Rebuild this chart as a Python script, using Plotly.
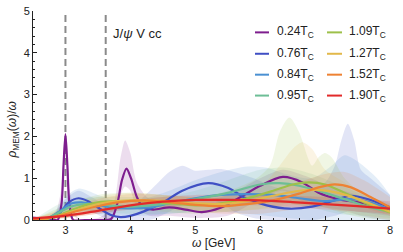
import plotly.graph_objects as go

# ---------------- data ----------------
labels = ["0.24", "0.76", "0.84", "0.95", "1.09", "1.27", "1.52", "1.90"]
colors = ["#7E1E8E", "#3F4FC4", "#4A90D2", "#6DBE96", "#9DC04A", "#E2B84A", "#EE8233", "#E22A2A"]

# central curves (x, y)
x024 = [2.5, 2.65, 2.8, 2.88, 2.94, 2.97, 3.0, 3.03, 3.06, 3.12, 3.3, 3.5, 3.7, 3.8, 3.87, 3.94, 4.01, 4.1, 4.2,
        4.35, 4.6, 4.85, 5.1, 5.4, 5.7, 6.0, 6.35, 6.65, 6.9, 7.2, 7.6, 8.0]
y024 = [0.05, 0.04, 0.01, 0.0, 0.4, 1.3, 2.05, 1.3, 0.4, 0.0, 0.0, 0.0, 0.02, 0.4, 0.95, 1.23, 1.0, 0.55, 0.3,
        0.25, 0.3, 0.25, 0.19, 0.3, 0.55, 0.82, 1.03, 0.9, 0.65, 0.5, 0.4, 0.22]
x076 = [2.5, 2.7, 2.9, 3.05, 3.2, 3.35, 3.5, 3.7, 3.85, 4.0, 4.2, 4.5, 4.8, 5.2, 5.5, 5.8, 6.1, 6.45, 6.8, 7.1,
        7.4, 7.7, 8.0]
y076 = [0.0, 0.0, 0.15, 0.42, 0.52, 0.45, 0.3, 0.12, 0.07, 0.1, 0.2, 0.42, 0.7, 0.88, 0.77, 0.5, 0.35, 0.27, 0.32,
        0.45, 0.58, 0.48, 0.3]
x084 = [2.5, 2.7, 2.9, 3.1, 3.25, 3.45, 3.7, 4.0, 4.3, 4.6, 5.0, 5.4, 5.8, 6.2, 6.6, 7.0, 7.4, 7.7, 8.0]
y084 = [0.0, 0.02, 0.2, 0.4, 0.42, 0.37, 0.3, 0.28, 0.3, 0.4, 0.52, 0.6, 0.62, 0.6, 0.52, 0.45, 0.5, 0.42, 0.25]
x095 = [2.5, 2.7, 2.9, 3.1, 3.3, 3.6, 4.0, 4.5, 5.0, 5.5, 6.0, 6.3, 6.6, 7.0, 7.4, 7.7, 8.0]
y095 = [0.0, 0.03, 0.18, 0.33, 0.38, 0.36, 0.32, 0.38, 0.5, 0.65, 0.85, 0.88, 0.82, 0.65, 0.45, 0.3, 0.2]
x109 = [2.5, 2.7, 2.9, 3.2, 3.5, 3.8, 4.2, 4.6, 5.0, 5.4, 5.8, 6.2, 6.5, 6.75, 7.0, 7.3, 7.6, 8.0]
y109 = [0.0, 0.02, 0.12, 0.3, 0.42, 0.45, 0.45, 0.4, 0.35, 0.4, 0.52, 0.7, 0.85, 0.9, 0.85, 0.65, 0.42, 0.18]
x127 = [2.5, 2.7, 2.9, 3.2, 3.5, 3.8, 4.2, 4.6, 5.0, 5.4, 5.8, 6.2, 6.6, 6.9, 7.2, 7.6, 8.0]
y127 = [0.0, 0.03, 0.1, 0.25, 0.38, 0.45, 0.47, 0.45, 0.4, 0.38, 0.45, 0.58, 0.7, 0.72, 0.65, 0.45, 0.2]
x152 = [2.5, 2.7, 2.9, 3.2, 3.5, 3.8, 4.2, 4.6, 5.0, 5.4, 5.8, 6.2, 6.6, 6.9, 7.15, 7.4, 7.7, 8.0]
y152 = [0.02, 0.04, 0.1, 0.22, 0.33, 0.42, 0.47, 0.43, 0.36, 0.33, 0.38, 0.47, 0.63, 0.78, 0.85, 0.78, 0.55, 0.3]
x190 = [2.5, 3.0, 3.5, 4.0, 4.5, 5.0, 5.5, 6.0, 6.5, 7.0, 7.5, 8.0]
y190 = [0.04, 0.1, 0.22, 0.35, 0.44, 0.48, 0.48, 0.47, 0.43, 0.38, 0.33, 0.27]

# error bands (x, lower, upper)
bx024 = [2.5, 2.8, 2.92, 3.0, 3.08, 3.2, 3.5, 3.72, 3.85, 3.92, 4.0, 4.1, 4.3, 4.6, 5.0, 5.5, 6.0, 6.35, 6.7,
         7.0, 7.5, 8.0]
bu024 = [0.1, 0.05, 0.6, 2.1, 0.6, 0.05, 0.05, 0.3, 1.5, 1.9, 1.6, 0.9, 0.5, 0.5, 0.45, 0.6, 1.0, 1.2, 1.05,
         0.85, 0.6, 0.35]
bl024 = [0.0, 0.0, 0.3, 1.95, 0.3, 0.0, 0.0, 0.0, 0.6, 0.8, 0.7, 0.3, 0.1, 0.1, 0.05, 0.1, 0.5, 0.7, 0.4,
         0.3, 0.2, 0.1]
bx076 = [2.5, 2.8, 3.0, 3.2, 3.4, 3.7, 4.0, 4.3, 4.6, 4.8, 5.0, 5.2, 5.4, 5.6, 5.9, 6.2, 6.5, 6.8, 7.0, 7.15,
         7.25, 7.35, 7.45, 7.55, 7.7, 8.0]
bu076 = [0.0, 0.1, 0.5, 0.7, 0.55, 0.3, 0.3, 0.7, 1.15, 1.3, 1.18, 1.2, 1.22, 1.15, 1.0, 0.8, 0.7, 0.75, 0.9,
         1.3, 1.9, 2.3, 1.9, 1.2, 1.0, 0.6]
bl076 = [0.0, 0.0, 0.2, 0.3, 0.2, 0.0, 0.0, 0.0, 0.2, 0.35, 0.45, 0.5, 0.4, 0.2, 0.05, 0.0, 0.0, 0.0, 0.05,
         0.1, 0.15, 0.2, 0.15, 0.1, 0.05, 0.0]
bx084 = [2.5, 2.8, 3.0, 3.2, 3.5, 3.8, 4.2, 4.6, 5.0, 5.4, 5.8, 6.1, 6.4, 6.8, 7.1, 7.3, 7.5, 7.8, 8.0]
bu084 = [0.0, 0.15, 0.55, 0.75, 0.6, 0.45, 0.5, 0.7, 0.95, 1.15, 1.28, 1.25, 1.1, 1.0, 1.3, 1.55, 1.4, 1.0, 0.6]
bl084 = [0.0, 0.0, 0.2, 0.2, 0.15, 0.1, 0.1, 0.15, 0.2, 0.2, 0.15, 0.1, 0.05, 0.0, 0.0, 0.0, 0.0, 0.0, 0.0]
bx095 = [2.5, 3.0, 3.5, 4.0, 4.5, 5.0, 5.5, 6.0, 6.4, 6.8, 7.2, 7.6, 8.0]
bu095 = [0.0, 0.45, 0.55, 0.55, 0.55, 0.7, 0.95, 1.2, 1.25, 1.1, 0.85, 0.6, 0.4]
bl095 = [0.0, 0.2, 0.2, 0.15, 0.15, 0.2, 0.3, 0.4, 0.4, 0.3, 0.15, 0.1, 0.05]
bx109 = [2.5, 3.0, 3.5, 4.0, 4.5, 5.0, 5.5, 5.9, 6.15, 6.3, 6.45, 6.6, 6.8, 6.9, 7.0, 7.1, 7.3, 7.6, 8.0]
bu109 = [0.0, 0.35, 0.6, 0.65, 0.6, 0.55, 0.7, 0.95, 1.3, 2.1, 2.45, 2.1, 1.3, 1.5, 1.6, 1.5, 1.0, 0.6, 0.3]
bl109 = [0.0, 0.05, 0.2, 0.25, 0.2, 0.15, 0.2, 0.25, 0.3, 0.35, 0.4, 0.35, 0.3, 0.3, 0.3, 0.25, 0.15, 0.05, 0.0]
bx127 = [2.5, 3.0, 3.5, 4.0, 4.5, 5.0, 5.5, 6.0, 6.3, 6.5, 6.65, 6.8, 7.0, 7.3, 7.6, 8.0]
bu127 = [0.0, 0.3, 0.55, 0.65, 0.6, 0.55, 0.6, 0.8, 1.3, 1.7, 1.86, 1.7, 1.2, 0.9, 0.6, 0.35]
bl127 = [0.0, 0.05, 0.2, 0.3, 0.25, 0.2, 0.2, 0.25, 0.3, 0.35, 0.35, 0.35, 0.3, 0.2, 0.1, 0.0]
bx152 = [2.5, 3.0, 3.5, 4.0, 4.5, 5.0, 5.5, 6.0, 6.5, 7.0, 7.3, 7.6, 8.0]
bu152 = [0.05, 0.25, 0.5, 0.62, 0.6, 0.55, 0.5, 0.6, 0.85, 1.1, 1.15, 0.95, 0.55]
bl152 = [0.0, 0.05, 0.15, 0.3, 0.3, 0.2, 0.15, 0.15, 0.25, 0.4, 0.45, 0.3, 0.1]
bx190 = [2.5, 3.0, 3.5, 4.0, 4.5, 5.0, 5.5, 6.0, 6.5, 7.0, 7.5, 8.0]
bu190 = [0.06, 0.15, 0.3, 0.45, 0.55, 0.6, 0.6, 0.6, 0.58, 0.55, 0.5, 0.45]
bl190 = [0.02, 0.06, 0.15, 0.25, 0.33, 0.36, 0.36, 0.35, 0.3, 0.25, 0.2, 0.15]

marker_lines = [3.0, 3.62]   # dashed vertical lines
x_ticks = [3, 4, 5, 6, 7, 8]
y_ticks = [0, 1, 2, 3, 4, 5]
x_range = [2.5, 8.0]
y_range = [0, 5]

curves = [(x024, y024), (x076, y076), (x084, y084), (x095, y095),
          (x109, y109), (x127, y127), (x152, y152), (x190, y190)]
bands = [(bx024, bl024, bu024), (bx076, bl076, bu076), (bx084, bl084, bu084), (bx095, bl095, bu095),
         (bx109, bl109, bu109), (bx127, bl127, bu127), (bx152, bl152, bu152), (bx190, bl190, bu190)]


def rgba(h, a):
    h = h.lstrip("#")
    r, g, b = int(h[0:2], 16), int(h[2:4], 16), int(h[4:6], 16)
    return f"rgba({r},{g},{b},{a})"


fig = go.Figure()

for (bx, bl, bu), c in zip(bands, colors):
    fig.add_trace(go.Scatter(x=bx, y=bl, mode="lines", line=dict(width=0, shape="spline", smoothing=0.8),
                             showlegend=False, hoverinfo="skip"))
    fig.add_trace(go.Scatter(x=bx, y=bu, mode="lines", line=dict(width=0, shape="spline", smoothing=0.8),
                             fill="tonexty", fillcolor=rgba(c, 0.15), showlegend=False, hoverinfo="skip"))

for (cx, cy), c, lab in zip(curves, colors, labels):
    fig.add_trace(go.Scatter(x=cx, y=cy, mode="lines", name=lab,
                             line=dict(color=c, width=2.2, shape="spline", smoothing=0.8),
                             showlegend=False))

for xv in marker_lines:
    fig.add_shape(type="line", xref="x", yref="y", x0=xv, x1=xv, y0=y_range[0], y1=y_range[1],
                  line=dict(color="#8a8a8a", width=2, dash="7px,4px"), layer="below")

# manual legend (2 columns x 4 rows)
L, R, T, B = 33, 13, 5, 32
W, H = 403, 252
pw, ph = W - L - R, H - T - B


def px(xp):
    return (xp - L) / pw


def py(yp):
    return (H - B - yp) / ph


col_line_x = [(255, 269), (327, 342)]
col_text_x = [275, 347]
row_y = [27, 49, 70.5, 92]
for i, (lab, c) in enumerate(zip(labels, colors)):
    col, row = divmod(i, 4)
    x0, x1 = col_line_x[col]
    fig.add_shape(type="line", xref="paper", yref="paper", x0=px(x0), x1=px(x1),
                  y0=py(row_y[row]), y1=py(row_y[row]), line=dict(color=c, width=2))
    fig.add_annotation(xref="paper", yref="paper", x=px(col_text_x[col]), y=py(row_y[row]),
                       text=f"{lab}T<sub>C</sub>", showarrow=False, xanchor="left", yanchor="middle",
                       font=dict(size=12, color="#222", family="Liberation Sans, Arial"))

fig.add_annotation(xref="paper", yref="paper", x=px(111), y=py(28), text="J/<i>ψ</i> V cc",
                   showarrow=False, xanchor="left", yanchor="middle",
                   font=dict(size=13, color="#222", family="Liberation Sans, Arial"))
fig.add_annotation(xref="paper", yref="paper", x=px(13), y=py(128),
                   text="<i>ρ</i><sub>MEM</sub>(<i>ω</i>)/<i>ω</i>", textangle=-90,
                   showarrow=False, xanchor="center", yanchor="middle",
                   font=dict(size=12, color="#222", family="Liberation Sans, Arial"))
fig.add_annotation(xref="paper", yref="paper", x=px(213), y=py(244), text="<i>ω</i> [GeV]",
                   showarrow=False, xanchor="center", yanchor="middle",
                   font=dict(size=12, color="#222", family="Liberation Sans, Arial"))

axis_common = dict(showgrid=False, zeroline=False, showline=True, linecolor="#222", linewidth=1,
                   ticks="inside", ticklen=4, tickcolor="#222", mirror=False, ticklabeloverflow="allow",
                   tickfont=dict(size=11, color="#222", family="Liberation Sans, Arial"))
fig.update_xaxes(range=x_range, tickvals=x_ticks, **axis_common,
                 minor=dict(dtick=0.2, ticks="inside", ticklen=2, tickcolor="#222"))
fig.update_yaxes(range=y_range, tickvals=y_ticks, **axis_common,
                 minor=dict(dtick=0.2, ticks="inside", ticklen=2, tickcolor="#222"))

fig.update_layout(width=W, height=H, margin=dict(l=L, r=R, t=T, b=B),
                  plot_bgcolor="white", paper_bgcolor="white", showlegend=False)

fig.write_html("out.html", config={"displayModeBar": False},
               post_script="document.body.style.margin='0';document.body.style.overflow='hidden';")
